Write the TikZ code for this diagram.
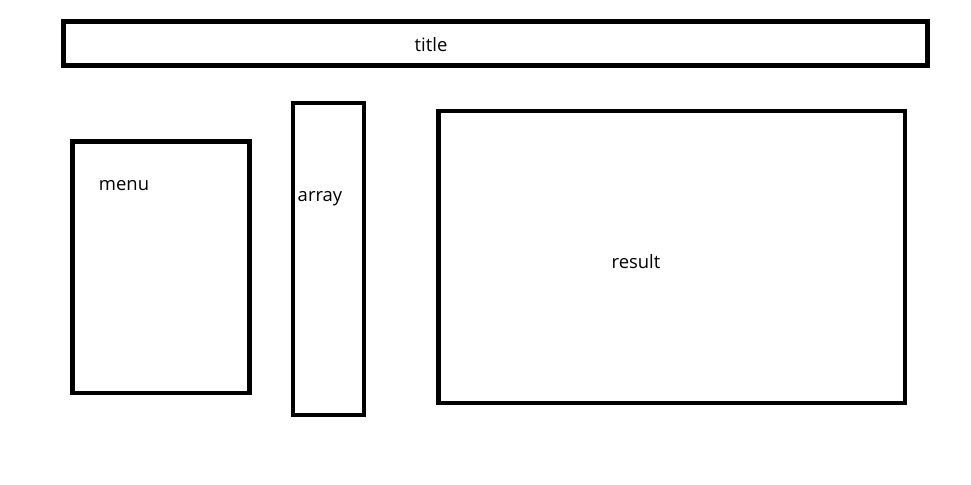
\documentclass[tikz,border=0pt]{standalone}
\usepackage{fontspec}
\setmainfont{Open Sans}
\usepackage{tikz}
\usetikzlibrary{positioning}

\begin{document}
\begin{tikzpicture}[
    x=0.02cm, y=-0.02cm,
    panel/.style={rectangle, draw, line width=2.8pt, inner sep=0pt},
    caption/.style={font=\fontsize{10.5}{12}\selectfont, inner sep=0pt, anchor=base}
]
    \useasboundingbox (0,0) rectangle (971,484);
    % Layout boxes
    \node[panel, minimum width=17.3cm, minimum height=0.87cm] (title) at (495.5,43.5) {};
    \node[panel, minimum width=3.54cm, minimum height=5.03cm] (menu) at (161,267.3) {};
    \node[panel, minimum width=1.42cm, minimum height=6.24cm] (array) at (328.5,259) {};
    \node[panel, minimum width=9.34cm, minimum height=5.84cm] (result) at (671.5,257) {};

    % Labels
    \node[caption] (titletext) at (431,51.5) {title};
    \node[caption] (menutext) at (124,190) {menu};
    \node[caption] (arraytext) at (320,201.5) {array};
    \node[caption] (resulttext) at (636,268) {result};
\end{tikzpicture}
\end{document}
